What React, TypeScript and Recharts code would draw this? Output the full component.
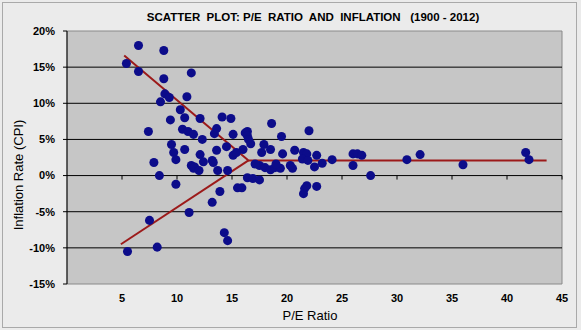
import React from 'react'
import {
  ScatterChart,
  Scatter,
  XAxis,
  YAxis,
  ReferenceArea,
  ReferenceLine,
} from 'recharts'

// P/E ratio (x) and inflation rate % (y)
const peRatio = [
  6.5, 8.8, 5.4, 6.5, 8.8, 11.3, 8.9, 9.3, 8.5, 10.9, 10.3, 10.7, 9.4, 7.4, 10.5,
  11.0, 11.5, 12.1, 14.1, 14.9, 13.6, 13.4, 15.1, 16.4, 12.3, 9.5, 9.7, 10.7, 12.1,
  13.6, 14.5, 16.0, 9.9, 15.1, 7.9, 11.3, 11.5, 11.6, 12.0, 12.4, 13.2, 13.3, 13.7,
  14.6, 8.4, 9.9, 16.4, 15.5, 15.9, 13.9, 13.2, 11.1, 7.5, 14.3, 14.6, 8.2, 5.5,
  18.6, 19.5, 16.2, 16.4, 16.5, 16.7, 15.4, 17.9, 18.5, 17.7, 19.6, 20.7, 17.5,
  18.0, 18.5, 18.9, 19.4, 20.3, 20.5, 16.9, 17.5, 22.0, 21.5, 21.8, 22.7, 24.1,
  26.0, 26.4, 26.8, 26.0, 27.6, 17.1, 19.0, 21.4, 21.9, 22.5, 23.2, 21.6, 21.5,
  21.8, 22.7, 30.9, 32.1, 36.0, 41.7, 42.0,
]
const inflation = [
  18.0, 17.3, 15.5, 14.4, 13.4, 14.2, 11.3, 10.8, 10.2, 10.9, 9.1, 8.0, 7.7, 6.1, 6.4,
  6.1, 5.7, 7.9, 8.1, 7.9, 6.5, 5.8, 5.7, 6.1, 5.0, 4.3, 3.2, 3.6, 2.9,
  3.5, 4.0, 3.6, 2.2, 2.8, 1.8, 1.4, 1.0, 1.2, 0.7, 1.9, 2.1, 1.8, 0.7,
  0.7, 0.0, -1.2, -0.3, -1.7, -1.7, -2.2, -3.7, -5.1, -6.2, -7.9, -9.0, -9.9, -10.5,
  7.2, 5.4, 5.9, 5.5, 5.0, 4.4, 3.2, 4.3, 3.6, 3.2, 3.0, 3.5, 1.4,
  1.1, 0.8, 1.1, 1.0, 1.4, 1.0, -0.4, -0.6, 6.2, 3.2, 3.0, 2.8, 2.2,
  3.0, 3.0, 2.8, 1.4, 0.0, 1.6, 1.6, 2.3, 2.1, 1.2, 1.7, -1.8, -2.5,
  -1.4, -1.5, 2.2, 2.9, 1.5, 3.2, 2.2,
]

// hand-drawn trend lines
const upperTrendPE = [5.2, 16.5, 43.6]
const upperTrendInfl = [16.6, 2.1, 2.1]
const lowerTrendPE = [4.9, 16.5]
const lowerTrendInfl = [-9.5, 2.1]

const xTicks = [5, 10, 15, 20, 25, 30, 35, 40, 45]
const yTicks = [-15, -10, -5, 0, 5, 10, 15, 20]
const gridValues = [-10, -5, 0, 5, 10, 15]

const toPoints = (xs: number[], ys: number[]) => xs.map((x, i) => ({ x, y: ys[i] }))

const points = toPoints(peRatio, inflation)
const upperTrend = toPoints(upperTrendPE, upperTrendInfl)
const lowerTrend = toPoints(lowerTrendPE, lowerTrendInfl)

const FONT = '"Liberation Sans", Arial, sans-serif'
const tickStyle = { fontSize: 11, fontWeight: 700, fill: '#000', fontFamily: FONT }
const TREND = '#9c1a1a'
const DOT = '#0c0c8a'

const NoShape = () => <g />

export default function App() {
  return (
    <div
      style={{
        position: 'fixed',
        top: 0,
        left: 0,
        width: 581,
        height: 330,
        background: '#ebebeb',
        fontFamily: FONT,
      }}
    >
      <div
        style={{
          position: 'absolute',
          left: 2,
          top: 2,
          width: 573,
          height: 324,
          border: '1px solid #a9a9a9',
        }}
      />
      <div
        style={{
          position: 'absolute',
          left: 313,
          top: 18,
          transform: 'translate(-50%, -50%)',
          fontSize: 11.5,
          fontWeight: 700,
          whiteSpace: 'pre',
          lineHeight: 1,
        }}
      >
        {'SCATTER  PLOT: P/E  RATIO  AND  INFLATION   (1900 - 2012)'}
      </div>
      <div
        style={{
          position: 'absolute',
          left: 18,
          top: 175,
          transform: 'translate(-50%, -50%) rotate(-90deg)',
          fontSize: 13,
          whiteSpace: 'nowrap',
          lineHeight: 1,
        }}
      >
        Inflation Rate (CPI)
      </div>
      <div
        style={{
          position: 'absolute',
          left: 310,
          top: 315,
          transform: 'translate(-50%, -50%)',
          fontSize: 13,
          whiteSpace: 'nowrap',
          lineHeight: 1,
        }}
      >
        P/E Ratio
      </div>
      <div style={{ position: 'absolute', left: 0, top: 0 }}>
        <ScatterChart width={581} height={330} margin={{ top: 31, right: 19, bottom: 0, left: 0 }}>
          <XAxis
            type="number"
            dataKey="x"
            domain={[0, 45]}
            ticks={xTicks}
            axisLine={false}
            tickLine={false}
            tickSize={0}
            tickMargin={10}
            height={46}
            tick={tickStyle}
            allowDataOverflow
          />
          <YAxis
            type="number"
            dataKey="y"
            domain={[-15, 20]}
            ticks={yTicks}
            tickFormatter={(v) => `${v}%`}
            axisLine={{ stroke: '#000' }}
            tickLine={{ stroke: '#000' }}
            tickSize={4}
            tickMargin={8}
            width={67}
            tick={tickStyle}
            allowDataOverflow
          />
          <ReferenceArea x1={0} x2={45} y1={-15} y2={20} fill="#c6c6c6" fillOpacity={1} stroke="#8a8a8a" />
          {gridValues.map((v) => (
            <ReferenceLine key={`g${v}`} y={v} stroke="#000" strokeWidth={1} />
          ))}
          {xTicks.map((v) => (
            <ReferenceLine
              key={`t${v}`}
              segment={[{ x: v, y: 0 }, { x: v, y: -0.55 }]}
              stroke="#000"
            />
          ))}
          <Scatter
            data={upperTrend}
            line={{ stroke: TREND, strokeWidth: 2 }}
            shape={NoShape}
            isAnimationActive={false}
          />
          <Scatter
            data={lowerTrend}
            line={{ stroke: TREND, strokeWidth: 2 }}
            shape={NoShape}
            isAnimationActive={false}
          />
          <Scatter data={points} fill={DOT} isAnimationActive={false} />
        </ScatterChart>
      </div>
    </div>
  )
}
